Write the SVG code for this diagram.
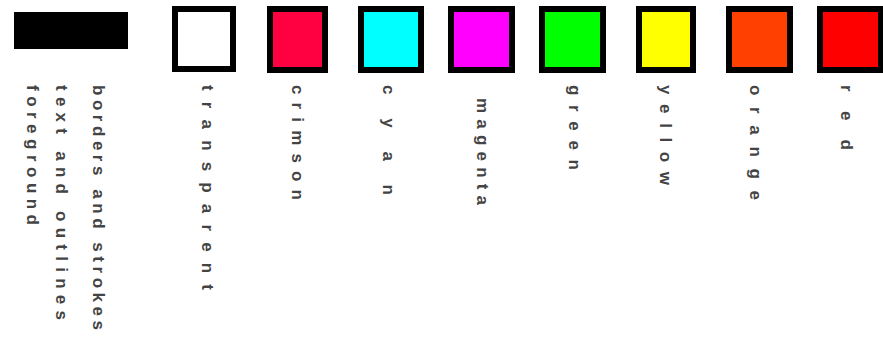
<svg xmlns="http://www.w3.org/2000/svg" width="883" height="338" viewBox="0 0 883 338">
<style>
.sw{stroke:#000;stroke-width:6}
.lbl{font-family:"Liberation Sans",Arial,sans-serif;font-size:17px;font-weight:bold;fill:#444}
</style>
<rect width="883" height="338" fill="#fff"/>
<g id="black">
<rect x="14" y="12" width="114" height="37" fill="#000"/>
<text class="lbl" transform="translate(27,85) rotate(90)" textLength="140" lengthAdjust="spacing">foreground</text>
<text class="lbl" transform="translate(56,85) rotate(90)" textLength="235" lengthAdjust="spacing">text and outlines</text>
<text class="lbl" transform="translate(93,85) rotate(90)" textLength="245" lengthAdjust="spacing">borders and strokes</text>
</g>
<g id="white">
<rect class="sw" x="175" y="9" width="58" height="60" fill="#fff"/>
<text class="lbl" transform="translate(202,85) rotate(90)" textLength="205" lengthAdjust="spacing">transparent</text>
</g>
<g id="crimson">
<rect class="sw" x="270" y="9" width="55" height="61" fill="#ff0040"/>
<text class="lbl" transform="translate(292,85) rotate(90)" textLength="115" lengthAdjust="spacing">crimson</text>
</g>
<g id="cyan">
<rect class="sw" x="361" y="9" width="60" height="61" fill="#00ffff"/>
<text class="lbl" transform="translate(383,85) rotate(90)" textLength="110" lengthAdjust="spacing">cyan</text>
</g>
<g id="magenta">
<rect class="sw" x="451" y="9" width="61" height="61" fill="#ff00ff"/>
<text class="lbl" transform="translate(477,98) rotate(90)" textLength="107" lengthAdjust="spacing">magenta</text>
</g>
<g id="green">
<rect class="sw" x="542" y="9" width="61" height="61" fill="#00ff00"/>
<text class="lbl" transform="translate(569,85) rotate(90)" textLength="85" lengthAdjust="spacing">green</text>
</g>
<g id="yellow">
<rect class="sw" x="639" y="9" width="54" height="61" fill="#ffff00"/>
<text class="lbl" transform="translate(660,85) rotate(90)" textLength="100" lengthAdjust="spacing">yellow</text>
</g>
<g id="orange">
<rect class="sw" x="729" y="9" width="61" height="61" fill="#ff4000"/>
<text class="lbl" transform="translate(750,85) rotate(90)" textLength="115" lengthAdjust="spacing">orange</text>
</g>
<g id="red">
<rect class="sw" x="820" y="9" width="61" height="61" fill="#ff0000"/>
<text class="lbl" transform="translate(841,85) rotate(90)" textLength="65" lengthAdjust="spacing">red</text>
</g>
</svg>
